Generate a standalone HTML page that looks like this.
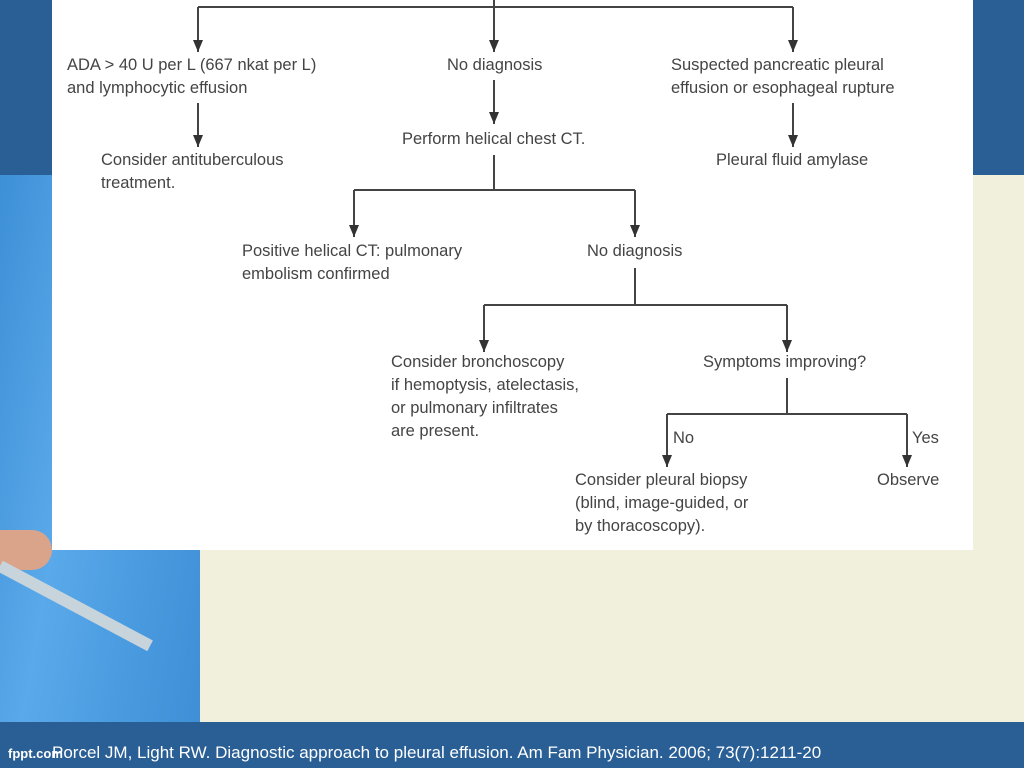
<!DOCTYPE html>
<html><head><style>
body{margin:0;width:1024px;height:768px;overflow:hidden;position:relative;background:#f0f0dc;font-family:"Liberation Sans",sans-serif}
div{position:absolute}
</style></head><body>
<div style="left:0;top:0;width:1024px;height:175px;background:#2a5f96"></div>
<div style="left:0;top:175px;width:200px;height:547px;background:linear-gradient(100deg,#3d8fd6 0%,#5aa9ea 40%,#4a9be0 70%,#3f8fd6 100%)"></div>
<div style="left:0;top:530px;width:52px;height:40px;background:#d9a48a;border-radius:0 20px 20px 0"></div>
<div style="left:0;top:560px;width:170px;height:12px;background:#c8d4dc;transform:rotate(28deg);transform-origin:left"></div>
<div style="left:0;top:722px;width:1024px;height:46px;background:#2a5f96"></div>
<div style="left:8px;top:746px;color:#fff;font-size:13px;font-weight:bold">fppt.com</div>
<div style="left:52px;top:743px;color:#fff;font-size:17px;white-space:nowrap;transform:scaleX(1.0);transform-origin:left">Porcel JM, Light RW. Diagnostic approach to pleural effusion. Am Fam Physician. 2006; 73(7):1211-20</div>
<div style="left:52px;top:0;width:921px;height:550px;background:#fff"></div>
<svg width="1024" height="768" style="position:absolute;left:0;top:0" font-family="Liberation Sans, sans-serif" font-size="16.5" fill="#444">
<defs><marker id="a" markerWidth="12" markerHeight="10" refX="12" refY="5" orient="auto" markerUnits="userSpaceOnUse"><path d="M0,0 L12,5 L0,10z" fill="#333"/></marker></defs>
<g stroke="#444" stroke-width="2" fill="none">
<path d="M494 0V7M198 7H793"/>
<path d="M198 7V52" marker-end="url(#a)"/><path d="M494 7V52" marker-end="url(#a)"/><path d="M793 7V52" marker-end="url(#a)"/>
<path d="M198 103V147" marker-end="url(#a)"/><path d="M494 80V124" marker-end="url(#a)"/><path d="M793 103V147" marker-end="url(#a)"/>
<path d="M494 155V190M354 190H635"/>
<path d="M354 190V237" marker-end="url(#a)"/><path d="M635 190V237" marker-end="url(#a)"/>
<path d="M635 268V305M484 305H787"/>
<path d="M484 305V352" marker-end="url(#a)"/><path d="M787 305V352" marker-end="url(#a)"/>
<path d="M787 378V414M667 414H907"/>
<path d="M667 414V467" marker-end="url(#a)"/><path d="M907 414V467" marker-end="url(#a)"/>
</g>
<text x="67" y="70">ADA &gt; 40 U per L (667 nkat per L)</text>
<text x="67" y="93">and lymphocytic effusion</text>
<text x="447" y="70">No diagnosis</text>
<text x="671" y="70">Suspected pancreatic pleural</text>
<text x="671" y="93">effusion or esophageal rupture</text>
<text x="101" y="165">Consider antituberculous</text>
<text x="101" y="188">treatment.</text>
<text x="402" y="144">Perform helical chest CT.</text>
<text x="716" y="165">Pleural fluid amylase</text>
<text x="242" y="256">Positive helical CT: pulmonary</text>
<text x="242" y="279">embolism confirmed</text>
<text x="587" y="256">No diagnosis</text>
<text x="391" y="367">Consider bronchoscopy</text>
<text x="391" y="390">if hemoptysis, atelectasis,</text>
<text x="391" y="413">or pulmonary infiltrates</text>
<text x="391" y="436">are present.</text>
<text x="703" y="367">Symptoms improving?</text>
<text x="673" y="443">No</text>
<text x="912" y="443">Yes</text>
<text x="575" y="485">Consider pleural biopsy</text>
<text x="575" y="508">(blind, image-guided, or</text>
<text x="575" y="531">by thoracoscopy).</text>
<text x="877" y="485">Observe</text>
</svg>
</body></html>
